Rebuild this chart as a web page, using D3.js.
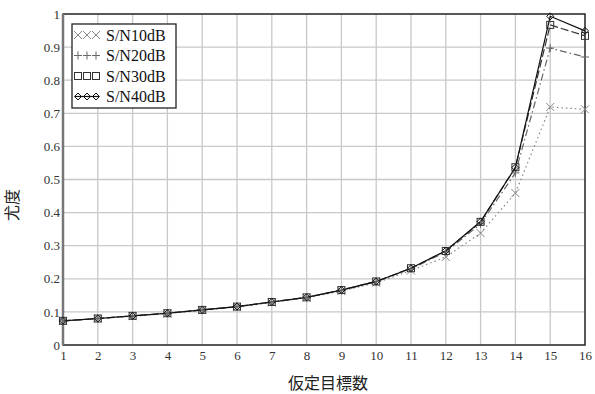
<!DOCTYPE html>
<html>
<head>
<meta charset="utf-8">
<script src="https://cdn.jsdelivr.net/npm/d3@7"></script>
<style>
  body { margin: 0; background: #fff; }
  svg { display: block; }
</style>
</head>
<body>
<svg id="chart" width="595" height="394"></svg>
<script>
// 仮定目標数ごとの尤度
const targets = [1, 2, 3, 4, 5, 6, 7, 8, 9, 10, 11, 12, 13, 14, 15, 16];
const sn10 = [0.073, 0.080, 0.087, 0.095, 0.105, 0.115, 0.128, 0.143, 0.163, 0.188, 0.225, 0.266, 0.338, 0.459, 0.719, 0.712];
const sn20 = [0.073, 0.080, 0.088, 0.096, 0.106, 0.116, 0.130, 0.144, 0.165, 0.191, 0.230, 0.281, 0.366, 0.520, 0.897, 0.870];
const sn30 = [0.073, 0.080, 0.088, 0.096, 0.106, 0.116, 0.130, 0.144, 0.166, 0.192, 0.232, 0.284, 0.372, 0.537, 0.967, 0.934];
const sn40 = [0.073, 0.080, 0.088, 0.096, 0.106, 0.116, 0.130, 0.144, 0.166, 0.192, 0.232, 0.285, 0.373, 0.536, 0.993, 0.949];
const seriesNames = ["S/N10dB", "S/N20dB", "S/N30dB", "S/N40dB"];
const yTicks = [0, 0.1, 0.2, 0.3, 0.4, 0.5, 0.6, 0.7, 0.8, 0.9, 1];

const margin = {left: 63, right: 10, top: 14, bottom: 49};
const width = 595, height = 394;

let svg = d3.select("#chart");

let xScale = d3.scaleLinear().domain([1, 16]).range([margin.left, width - margin.right]);
let yScale = d3.scaleLinear().domain([0, 1]).range([height - margin.bottom, margin.top]);

// grid
svg.append("g").selectAll("line.vx")
    .data(targets.slice(1, -1))
    .enter().append("line")
    .attr("x1", d => xScale(d)).attr("x2", d => xScale(d))
    .attr("y1", yScale(0)).attr("y2", yScale(1))
    .attr("stroke", "#c8c8c8").attr("stroke-width", 1.3);
svg.append("g").selectAll("line.hy")
    .data(yTicks.slice(1, -1))
    .enter().append("line")
    .attr("x1", xScale(1)).attr("x2", xScale(16))
    .attr("y1", d => yScale(d)).attr("y2", d => yScale(d))
    .attr("stroke", "#c8c8c8").attr("stroke-width", 1.3);

// axes
let xAxis = d3.axisBottom(xScale).tickValues(targets).tickSize(0).tickPadding(6).tickFormat(d3.format("d"));
let yAxis = d3.axisLeft(yScale).tickValues(yTicks).tickSize(0).tickPadding(3).tickFormat(d => d === 0 || d === 1 ? d3.format("d")(d) : d3.format(".1f")(d));

let gx = svg.append("g").attr("transform", `translate(0,${yScale(0)})`).call(xAxis);
let gy = svg.append("g").attr("transform", `translate(${xScale(1)},0)`).call(yAxis);
[gx, gy].forEach(g => {
    g.select(".domain").remove();
    g.selectAll("text")
        .attr("font-family", "'Liberation Serif', 'DejaVu Serif', serif")
        .attr("font-size", 13)
        .attr("fill", "#333");
});
gy.selectAll("text").attr("dy", "0.32em");

// frame
svg.append("rect")
    .attr("x", xScale(1)).attr("y", yScale(1))
    .attr("width", xScale(16) - xScale(1)).attr("height", yScale(0) - yScale(1))
    .attr("fill", "none").attr("stroke", "#222").attr("stroke-width", 1.5);
svg.append("line")
    .attr("x1", xScale(1)).attr("x2", xScale(1))
    .attr("y1", yScale(1)).attr("y2", yScale(0))
    .attr("stroke", "#777").attr("stroke-width", 2.5);

// series
const styles = [
    {data: sn10, color: "#888", dash: "1.5,3", marker: "x"},
    {data: sn20, color: "#666", dash: "7,3,1.5,3", marker: "plus"},
    {data: sn30, color: "#333", dash: "8,3", marker: "square"},
    {data: sn40, color: "#111", dash: null, marker: "diamond"}
];

let line = d3.line().x((d, i) => xScale(targets[i])).y(d => yScale(d));

function drawMarker(g, type, x, y, color) {
    if (type === "x") {
        g.append("path").attr("d", `M${x-4},${y-4}L${x+4},${y+4}M${x-4},${y+4}L${x+4},${y-4}`)
            .attr("stroke", color).attr("stroke-width", 1).attr("fill", "none");
    } else if (type === "plus") {
        g.append("path").attr("d", `M${x-4},${y}L${x+4},${y}M${x},${y-4}L${x},${y+4}`)
            .attr("stroke", color).attr("stroke-width", 1).attr("fill", "none");
    } else if (type === "square") {
        g.append("rect").attr("x", x - 3.5).attr("y", y - 3.5).attr("width", 7).attr("height", 7)
            .attr("stroke", color).attr("stroke-width", 1).attr("fill", "none");
    } else {
        g.append("path").attr("d", `M${x},${y-3.5}L${x+3.5},${y}L${x},${y+3.5}L${x-3.5},${y}Z`)
            .attr("stroke", color).attr("stroke-width", 1).attr("fill", "none");
    }
}

styles.forEach(s => {
    svg.append("path")
        .datum(s.data)
        .attr("d", line)
        .attr("fill", "none")
        .attr("stroke", s.color)
        .attr("stroke-width", 1.2)
        .attr("stroke-dasharray", s.dash);
});
styles.forEach(s => {
    let g = svg.append("g");
    s.data.forEach((v, i) => drawMarker(g, s.marker, xScale(targets[i]), yScale(v), s.color));
});

// legend
let legend = svg.append("g");
legend.append("rect")
    .attr("x", 72).attr("y", 24).attr("width", 104).attr("height", 84)
    .attr("fill", "#fff").attr("stroke", "#222").attr("stroke-width", 1.3);
seriesNames.forEach((name, i) => {
    let y = 35 + i * 20.5;
    let g = legend.append("g");
    if (styles[i].marker === "diamond") {
        g.append("line").attr("x1", 75).attr("x2", 99).attr("y1", y).attr("y2", y)
            .attr("stroke", styles[i].color).attr("stroke-width", 1.2);
    }
    [78, 87, 96].forEach(x => drawMarker(g, styles[i].marker, x, y, styles[i].color));
    legend.append("text")
        .attr("x", 106).attr("y", y).attr("dy", "0.35em")
        .attr("font-family", "'Liberation Serif', 'DejaVu Serif', serif")
        .attr("font-size", 16).attr("fill", "#111")
        .text(name);
});

// axis titles
svg.append("text")
    .attr("x", 328).attr("y", 389)
    .attr("text-anchor", "middle")
    .attr("font-family", "'Noto Sans CJK JP', sans-serif")
    .attr("font-size", 16).attr("fill", "#222")
    .text("仮定目標数");
svg.append("text")
    .attr("transform", "translate(18,205) rotate(-90)")
    .attr("text-anchor", "middle")
    .attr("font-family", "'Noto Sans CJK JP', sans-serif")
    .attr("font-size", 16).attr("fill", "#222")
    .text("尤度");
</script>
</body>
</html>
